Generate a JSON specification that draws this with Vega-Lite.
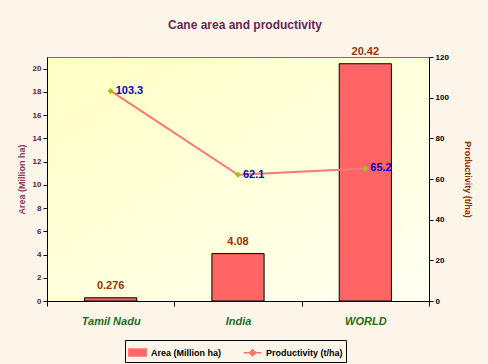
{
  "$schema": "https://vega.github.io/schema/vega-lite/v6.json",
  "width": 382,
  "height": 244,
  "autosize": "none",
  "padding": {"left": 47, "top": 57, "right": 59, "bottom": 63},
  "background": "#fcf6ea",
  "title": {
    "text": "Cane area and productivity",
    "font": "Liberation Sans",
    "fontSize": 12,
    "fontWeight": "bold",
    "color": "#6b1f5a",
    "anchor": "middle",
    "dx": 7,
    "offset": 14
  },
  "config": {
    "view": {
      "stroke": "#5a8a30",
      "strokeWidth": 1,
      "fill": {"gradient": "linear", "x1": 0, "y1": 0, "x2": 1, "y2": 1, "stops": [{"offset": 0, "color": "#ffffc4"}, {"offset": 1, "color": "#fffff2"}]}
    },
    "axis": {"domainColor": "black", "tickColor": "black", "grid": false, "labelFont": "Liberation Sans", "titleFont": "Liberation Sans"}
  },
  "data": {
    "values": [
      {"region": "Tamil Nadu", "area": 0.276, "prod": 103.3},
      {"region": "India", "area": 4.08, "prod": 62.1},
      {"region": "WORLD", "area": 20.42, "prod": 65.2}
    ]
  },
  "encoding": {
    "x": {
      "field": "region",
      "type": "nominal",
      "sort": null,
      "scale": {"paddingInner": 0, "paddingOuter": 0},
      "axis": {
        "title": null,
        "labelAngle": 0,
        "labelFontSize": 11,
        "labelFontWeight": "bold",
        "labelFontStyle": "italic",
        "labelColor": "#1f6b1f",
        "tickBand": "extent",
        "tickSize": 5,
        "labelPadding": 9
      }
    }
  },
  "layer": [
    {
      "encoding": {
        "y": {
          "field": "area",
          "type": "quantitative",
          "scale": {"domain": [0, 21], "nice": false},
          "axis": {
            "title": "Area (Million ha)",
            "values": [0, 2, 4, 6, 8, 10, 12, 14, 16, 18, 20],
            "labelOverlap": false,
            "labelFontSize": 8,
            "labelFontWeight": "bold",
            "labelColor": "#5c1a3a",
            "tickSize": 4,
            "titleFontSize": 9,
            "titleFontWeight": "bold",
            "titleColor": "#8b3a5a",
            "titlePadding": 6
          }
        }
      },
      "layer": [
        {
          "mark": {"type": "bar", "width": {"band": 0.41}, "stroke": "black", "strokeWidth": 1},
          "encoding": {
            "color": {
              "datum": "Area (Million ha)",
              "scale": {"domain": ["Area (Million ha)", "Productivity (t/ha)"], "range": ["#ff6464", "#99cc00"]},
              "legend": {
                "title": null,
                "orient": "none",
                "legendX": 78,
                "legendY": 283,
                "direction": "horizontal",
                "strokeColor": "black",
                "padding": 3,
                "labelFont": "Liberation Sans",
                "labelFontSize": 9,
                "labelFontWeight": "bold",
                "labelColor": "black",
                "symbolSize": 300,
                "symbolStrokeColor": "#ff7070",
                "symbolStrokeWidth": 1.5,
                "columnPadding": 18
              }
            }
          }
        },
        {
          "mark": {"type": "text", "dy": -7, "baseline": "bottom", "font": "Liberation Sans", "fontSize": 11, "fontWeight": "bold", "color": "#993300"},
          "encoding": {
            "text": {"field": "area", "type": "quantitative"}
          }
        }
      ]
    },
    {
      "encoding": {
        "y": {
          "field": "prod",
          "type": "quantitative",
          "scale": {"domain": [0, 120], "nice": false},
          "axis": {
            "orient": "right",
            "title": "Productivity (t/ha)",
            "values": [0, 20, 40, 60, 80, 100, 120],
            "labelOverlap": false,
            "labelFontSize": 8,
            "labelFontWeight": "bold",
            "labelColor": "black",
            "tickSize": 4,
            "titleFontSize": 9,
            "titleFontWeight": "bold",
            "titleColor": "#8b3000",
            "titleAngle": 90,
            "titlePadding": 14
          }
        }
      },
      "layer": [
        {
          "mark": {"type": "line", "color": "#ff7777", "strokeWidth": 2}
        },
        {
          "mark": {"type": "point", "filled": true, "size": 300, "opacity": 1},
          "encoding": {
            "color": {"datum": "Productivity (t/ha)"},
            "shape": {
              "datum": "Productivity (t/ha)",
              "scale": {"domain": ["Area (Million ha)", "Productivity (t/ha)"], "range": ["M-1,-0.4L1,-0.4L1,0.4L-1,0.4Z", "M-1,0L1,0M0,-0.35L0.35,0L0,0.35L-0.35,0Z"]}
            }
          }
        },
        {
          "mark": {"type": "text", "dx": 5, "align": "left", "baseline": "middle", "font": "Liberation Sans", "fontSize": 11, "fontWeight": "bold", "color": "#0000cc"},
          "encoding": {
            "text": {"field": "prod", "type": "quantitative"}
          }
        }
      ]
    }
  ],
  "resolve": {"scale": {"y": "independent"}}
}
